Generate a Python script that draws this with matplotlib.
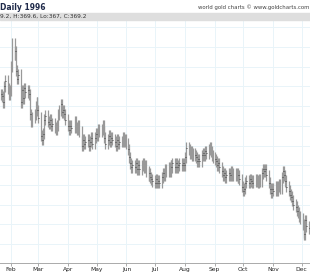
import pandas as pd
import numpy as np
import matplotlib
matplotlib.use('Agg')
import matplotlib.pyplot as plt
import matplotlib.dates as mdates

# daily closes, one row per week (Mon-Fri)
closes = [
    403, 402.5, 401, 405, 406.5,
    404.5, 403, 404, 410, 416,
    413, 414, 409, 407, 408,
    401, 404, 402, 404.5, 403.5,
    404, 403, 398, 396, 397,
    398, 400, 401, 399, 397,
    392.5, 391.5, 393, 396.5, 397.5,
    396, 395.5, 396.5, 395, 395.5,
    394.5, 394, 395, 398, 399,
    400.5, 398.5, 399, 398, 396.5,
    395, 394, 395, 394.5,
    396, 394.5, 394, 395, 393.5,
    391, 390, 391.5, 390.5, 391,
    391.5, 390, 391, 392, 390.5,
    392, 393, 392.5, 394, 393.5,
    394, 395, 393.5, 392, 390.5,
    391.5, 392.5, 391, 392, 391.5,
    391, 390, 391.5, 390.5, 391,
    391, 392, 391, 391.5, 390.5,
    389, 387, 385.5, 384.5, 385,
    384.5, 385.5, 384, 385, 384,
    385, 385.5, 384.5, 385, 383.5,
    382.5, 383, 382, 381.5, 381,
    380.5, 381.5, 380.5, 381, 380.5,
    382, 383, 382.5, 384, 383.5,
    384.5, 383.5, 385, 384.5, 385.5,
    384.5, 385.5, 384.5, 385, 385.5,
    385, 385.5, 385, 387, 389.5,
    389, 388, 388.5, 387.5, 388,
    387.5, 387, 386, 386.5, 386,
    387.5, 388, 387.5, 388.5, 388,
    389, 389.5, 388.5, 387.5, 387,
    386.5, 386, 385, 385.5, 384.5,
    383.5, 382.5, 383, 382, 382.5,
    383, 382.5, 383.5, 382.5, 383,
    382.5, 383, 382, 382.5, 381.5,
    379.5, 378.5, 379, 380.5, 381,
    380.5, 381.5, 381, 380.5, 381,
    381.5, 381, 380.5, 381.5, 381,
    383, 384, 383.5, 384, 382.5,
    380.5, 379, 378, 379, 378.5,
    379.5, 378.5, 379.5, 380, 379,
    382, 383.5, 382.5, 381, 379.5,
    378.5, 377.5, 377, 376, 375,
    374.5, 373.5, 373, 372, 371.5,
    370, 368, 367.5, 371, 369.5,
    369, 369.2,
]

dates = pd.bdate_range('1996-01-22', '1996-12-10')
dates = dates[dates != pd.Timestamp('1996-04-05')]

month_labels = ['Feb', 'Mar', 'Apr', 'May', 'Jun', 'Jul', 'Aug', 'Sep', 'Oct', 'Nov', 'Dec']
month_starts = pd.date_range('1996-02-01', '1996-12-01', freq='MS')

c = np.array(closes)
o = np.r_[c[0], c[:-1]]
hi = np.maximum(o, c) + 1.4
lo = np.minimum(o, c) - 1.4
x = mdates.date2num(dates)

fig = plt.figure(figsize=(3.1, 2.8), dpi=100)

# header
fig.patches.append(plt.Rectangle((0, 0.929), 1, 0.026, transform=fig.transFigure,
                                 color='#dedede', zorder=0))
fig.text(0.0, 0.974, 'Daily 1996', fontsize=5.5, fontweight='bold', color='#1f2a4a',
         va='center', ha='left')
fig.text(0.998, 0.974, 'world gold charts \u00a9 www.goldcharts.com', fontsize=3.9,
         color='#444444', va='center', ha='right')
fig.text(0.0, 0.942, '9.2, H:369.6, Lo:367, C:369.2', fontsize=4.2, color='#333333',
         va='center', ha='left')

ax = fig.add_axes([0, 0.0607, 1, 0.864])
x0 = mdates.date2num(pd.Timestamp('1996-02-01')) - 10.7 / 0.957
x1 = mdates.date2num(pd.Timestamp('1996-02-01')) + 299.3 / 0.957
ax.set_xlim(x0, x1)
ax.set_ylim(360.18, 421.6)

ax.set_yticks(np.arange(365, 421, 5))
ax.set_xticks(mdates.date2num(month_starts))
ax.set_xticklabels(month_labels, fontsize=4.3, color='#222222')
ax.tick_params(axis='x', length=2, width=0.5, color='#888888', pad=1)
ax.tick_params(axis='y', left=False, labelleft=False)
ax.grid(True, color='#e9f4f9', linewidth=0.7)
ax.set_axisbelow(True)
for s in ['left', 'right', 'top']:
    ax.spines[s].set_visible(False)
ax.spines['bottom'].set_color('#aaaaaa')
ax.spines['bottom'].set_linewidth(0.7)

ax.vlines(x, lo, hi, color='#999999', linewidth=0.9)
ax.hlines(c, x, x + 0.7, color='#333333', linewidth=0.6)

fig.savefig('out.png', dpi=100)
